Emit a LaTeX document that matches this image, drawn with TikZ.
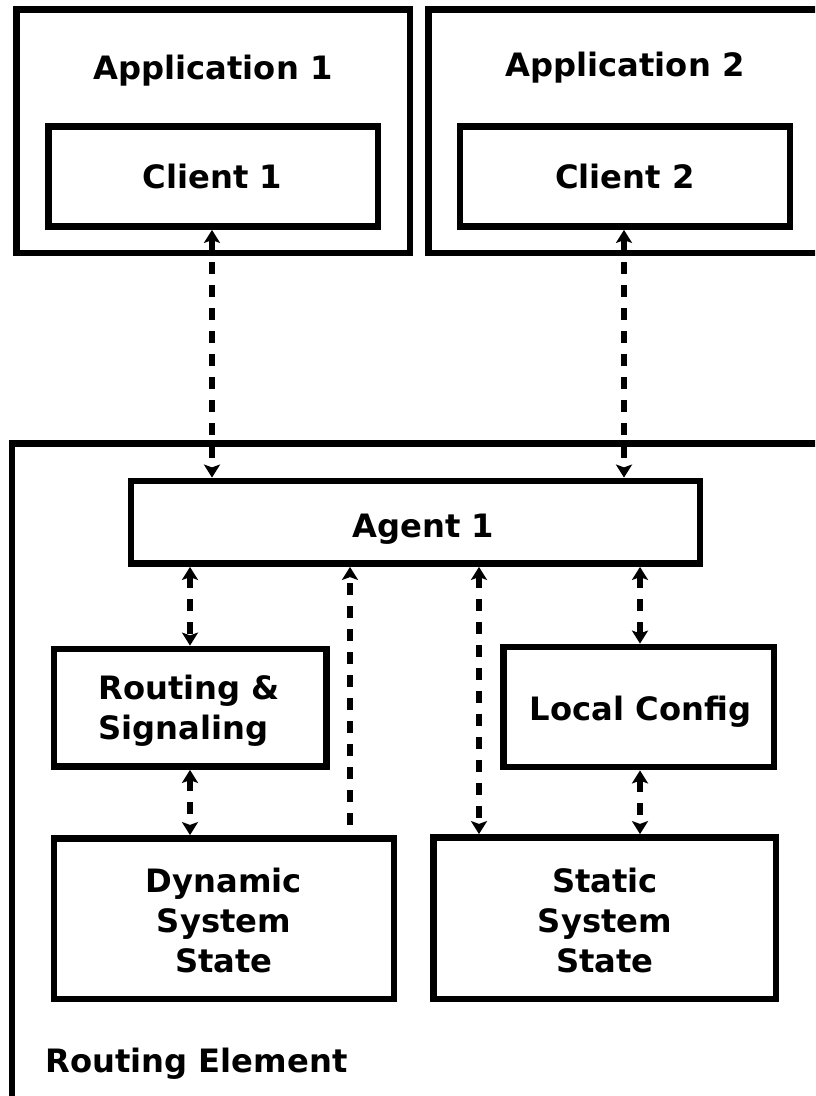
\documentclass[tikz,border=0pt]{standalone}
\usepackage{fontspec}
\setmainfont{DejaVu Sans}
\usetikzlibrary{arrows.meta}
\begin{document}
\begin{tikzpicture}[x=0.5pt,y=-0.5pt,
  box/.style n args={2}{draw, line width=3.4pt, inner sep=0pt,
    minimum width=#1*0.5pt, minimum height=#2*0.5pt},
  txt/.style={font=\bfseries\fontsize{16.1}{20}\selectfont, inner sep=0pt},
  link/.style={line width=2.6pt, dash pattern=on 6pt off 5.5pt},
  >={Stealth[length=6.5pt,width=8pt,inset=1.4pt]}]

\useasboundingbox (0,0) rectangle (815,1096);
\fill[white] (0,0) rectangle (815,1096);
\clip (0,0) rectangle (815,1096);

% applications and their clients
\node[box={393.5}{243.5}] (app1) at (213.25,131.25) {};
\node[box={411.5}{243.5}] (app2) at (634.25,131.25) {};
\node[box={329.5}{100}] (client1) at (213.25,176.5) {};
\node[box={330}{100}] (client2) at (625,176.5) {};

% routing element and its parts
\node[box={828}{676.5}] (re) at (426,781.75) {};
\node[box={569}{82.5}] (agent) at (415.5,522.25) {};
\node[box={272.5}{117.5}] (rs) at (190.25,707.75) {};
\node[box={270.5}{120}] (lc) at (638.75,707) {};
\node[box={340}{160.5}] (dyn) at (224,918.75) {};
\node[box={342.5}{161.5}] (stat) at (604.75,918.25) {};

% labels
\node[txt, anchor=base] (t-app1) at (213,80) {Application 1};
\node[txt, anchor=base] (t-app2) at (625,77) {Application 2};
\node[txt, anchor=base] (t-c1) at (212.5,189) {Client 1};
\node[txt, anchor=base] (t-c2) at (625,189) {Client 2};
\node[txt, anchor=base] (t-agent) at (423.5,537) {Agent 1};
\node[txt, anchor=base] (t-lc) at (640.5,720) {Local Config};
\node[txt, align=left, anchor=west] (t-rs) at (98,711) {Routing \&\\Signaling};
\node[txt, align=center] (t-dyn) at (224,920) {Dynamic\\System\\State};
\node[txt, align=center] (t-stat) at (605,920) {Static\\System\\State};
\node[txt, anchor=base west] (t-re) at (45,1072) {Routing Element};

% connector columns
\coordinate (xa) at (212,0);
\coordinate (xb) at (624,0);
\coordinate (xc) at (190,0);
\coordinate (xd) at (350,0);
\coordinate (xe) at (479,0);
\coordinate (xf) at (640,0);
\coordinate (dfree) at (350,825);

\draw[link,<->] (client1.south -| xa) -- (agent.north -| xa);
\draw[link,<->] (client2.south -| xb) -- (agent.north -| xb);
\draw[link,<->] (agent.south -| xc) -- (rs.north -| xc);
\draw[link,<->] (rs.south -| xc) -- (dyn.north -| xc);
\draw[link,->] (dfree) -- (agent.south -| xd);
\draw[link,<->] (agent.south -| xe) -- (stat.north -| xe);
\draw[link,<->] (agent.south -| xf) -- (lc.north -| xf);
\draw[link,<->] (lc.south -| xf) -- (stat.north -| xf);
\end{tikzpicture}
\end{document}
